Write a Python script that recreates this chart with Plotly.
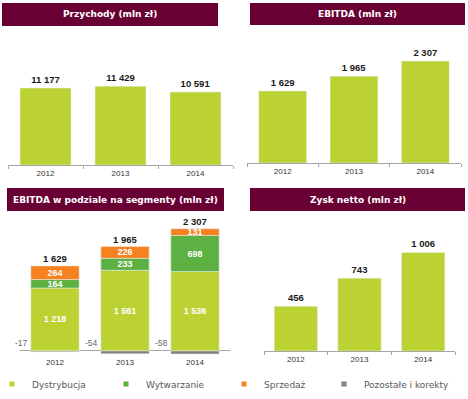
import plotly.graph_objects as go

years = ["2012", "2013", "2014"]
przychody = [11177, 11429, 10591]
ebitda = [1629, 1965, 2307]
dystrybucja = [1218, 1561, 1536]
wytwarzanie = [164, 233, 698]
sprzedaz = [264, 226, 131]
pozostale = [-17, -54, -58]
zysk_netto = [456, 743, 1006]

titles = ["Przychody (mln zł)", "EBITDA (mln zł)",
          "EBITDA w podziale na segmenty (mln zł)", "Zysk netto (mln zł)"]

C_LG = "#BCD233"
C_DG = "#5DB042"
C_OR = "#F5821F"
C_GR = "#808080"
C_TITLE = "#690034"

W, H = 468, 399


def fmt(v):
    return f"{v:,}".replace(",", " ")


def px(x):
    return x / W


def py(y):
    return 1 - y / H


TICK_FONT = dict(family="Liberation Sans, Arial", size=8, color="#333333")
VAL_FONT = dict(family="Liberation Sans, Arial", size=9.5, color="#1a1a1a")

fig = go.Figure()


def simple_bar(vals, xa, ya, width):
    fig.add_trace(go.Bar(x=years, y=vals, marker_color=C_LG, width=width,
                         text=["<b>" + fmt(v) + "</b>" for v in vals], textposition="outside",
                         textfont=VAL_FONT, cliponaxis=False, showlegend=False,
                         xaxis=xa, yaxis=ya))


simple_bar(przychody, "x", "y", 0.68)
simple_bar(ebitda, "x2", "y2", 0.67)

seg_font = dict(family="Liberation Sans, Arial", size=9, color="white")
segments = [("Dystrybucja", dystrybucja, C_LG),
            ("Wytwarzanie", wytwarzanie, C_DG),
            ("Sprzedaż", sprzedaz, C_OR),
            ("Pozostałe i korekty", pozostale, C_GR)]
for name, vals, col in segments:
    is_neg = name.startswith("Poz")
    fig.add_trace(go.Bar(x=years, y=vals, name=name, marker_color=col, width=0.69,
                         text=None if is_neg else ["<b>" + fmt(v) + "</b>" for v in vals],
                         textposition="none" if is_neg else "inside",
                         insidetextanchor="middle",
                         textangle=0, constraintext="none",
                         textfont=seg_font, showlegend=False,
                         xaxis="x3", yaxis="y3"))

simple_bar(zysk_netto, "x4", "y4", 0.68)

# legend entries: one small legend per series so each sits where the reference puts it
legend_ids = ["legend", "legend2", "legend3", "legend4"]
legend_x = [4, 118, 236, 336]
for (name, vals, col), lid in zip(segments, legend_ids):
    fig.add_trace(go.Scatter(x=[None], y=[None], mode="markers", name=name,
                             marker=dict(symbol="square", size=5, color=col),
                             xaxis="x3", yaxis="y3", hoverinfo="skip", legend=lid))

annotations = []
tops = [d + w + s for d, w, s in zip(dystrybucja, wytwarzanie, sprzedaz)]
for i, (top, tot) in enumerate(zip(tops, ebitda)):
    annotations.append(dict(x=i, y=top, xref="x3", yref="y3", text="<b>" + fmt(tot) + "</b>",
                            showarrow=False, yanchor="bottom", yshift=0,
                            font=VAL_FONT))
for i, v in enumerate(pozostale):
    annotations.append(dict(x=i, y=0, xref="x3", yref="y3", text=fmt(v),
                            showarrow=False, yanchor="bottom", xshift=-34, yshift=1,
                            font=dict(family="Liberation Sans, Arial", size=8.5, color="#666666")))

bars = [(2, 218, 3, 26), (250, 465, 3, 25), (7, 224, 188, 211), (250, 465, 188, 211)]
shapes = []
for (x0, x1, y0, y1), t in zip(bars, titles):
    shapes.append(dict(type="rect", xref="paper", yref="paper",
                       x0=px(x0), x1=px(x1), y0=py(y1), y1=py(y0),
                       fillcolor=C_TITLE, line=dict(width=0), layer="below"))
    annotations.append(dict(x=px((x0 + x1) / 2), y=py((y0 + y1) / 2), xref="paper", yref="paper",
                            text=f"<b>{t}</b>", showarrow=False,
                            xanchor="center", yanchor="middle",
                            font=dict(family="DejaVu Sans", size=9, color="white")))


def xax(d0, d1, anchor, ticks=True, line=True):
    return dict(domain=[px(d0), px(d1)], anchor=anchor, type="category",
                categoryorder="array", categoryarray=years, range=[-0.5, 2.5],
                showline=line, linecolor="#A6A6A6", linewidth=1,
                ticks="outside" if ticks else "", tickson="boundaries", ticklen=3,
                tickcolor="#A6A6A6", tickfont=TICK_FONT, showgrid=False,
                fixedrange=True)


def yax(d0, d1, anchor, rng, zeroline=False):
    return dict(domain=[py(d1), py(d0)], anchor=anchor, range=rng,
                showgrid=False, showticklabels=False, zeroline=zeroline,
                zerolinecolor="#A6A6A6", zerolinewidth=1, showline=False,
                fixedrange=True)


def leg(xpix):
    return dict(orientation="h", x=px(xpix), xanchor="left", y=py(384), yanchor="middle",
                font=dict(family="DejaVu Sans", size=9, color="#595959"),
                itemwidth=30, indentation=-12, bgcolor="rgba(0,0,0,0)")


fig.update_layout(
    width=W, height=H, margin=dict(l=0, r=0, t=0, b=0),
    paper_bgcolor="white", plot_bgcolor="white",
    barmode="relative",
    xaxis=xax(8, 233, "y"),
    yaxis=yax(40, 165, "x", [0, 18150]),
    xaxis2=xax(247, 461, "y2"),
    yaxis2=yax(40, 163, "x2", [0, 2783]),
    xaxis3=xax(20, 230, "y3", ticks=False, line=False),
    yaxis3=yax(215, 356, "x3", [-97, 2630], zeroline=True),
    xaxis4=xax(264, 455, "y4"),
    yaxis4=yax(215, 351, "x4", [0, 1388]),
    shapes=shapes,
    annotations=annotations,
    **{lid: leg(xp) for lid, xp in zip(legend_ids, legend_x)},
)

fig.write_html("out.html", config={"displayModeBar": False},
               post_script="document.body.style.margin='0px';document.body.style.overflow='hidden';")
